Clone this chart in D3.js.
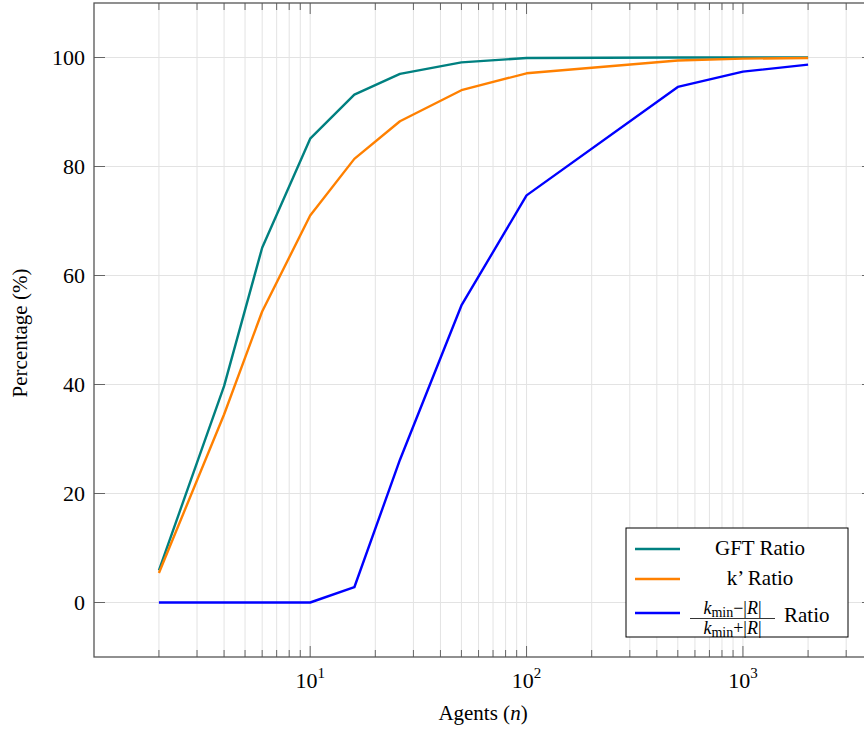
<!DOCTYPE html>
<html>
<head>
<meta charset="utf-8">
<script src="https://cdn.jsdelivr.net/npm/d3@7"></script>
<style>
  body { margin: 0; background: #fff; }
  svg { display: block; font-family: "Liberation Serif", "DejaVu Serif", serif; }
</style>
</head>
<body>
<svg id="chart" width="864" height="731"></svg>
<script>
// data
var agents = [2, 4, 6, 10, 16, 26, 50, 100, 500, 1000, 2000];
var gftRatio = [5.9, 39.7, 65.1, 85.1, 93.2, 97.0, 99.1, 99.9, 100, 100, 100];
var kPrimeRatio = [5.4, 34.5, 53.4, 71.0, 81.4, 88.3, 94.0, 97.1, 99.45, 99.8, 99.9];
var kminRatio = [0, 0, 0, 0, 2.8, 26.2, 54.5, 74.7, 94.6, 97.4, 98.7];
var yTicks = [0, 20, 40, 60, 80, 100];
var xMajor = [10, 100, 1000];
var seriesNames = ['GFT Ratio', 'k\u2019 Ratio', 'kmin'];
var seriesColors = ['#008080', '#ff8000', '#0000ff'];

(function() {
    var svg = d3.select('#chart'),
        pLeft = 94, pRight = 873, pTop = 3, pBottom = 657;

    var x = d3.scaleLog()
        .domain([Math.pow(10, 0.001), Math.pow(10, 3.601)])
        .range([pLeft, pRight]);

    var y = d3.scaleLinear()
        .domain([-10, 110])
        .range([pBottom, pTop]);

    // minor ticks of the log axis (2..9 per decade)
    var xMinor = [];
    [1, 10, 100, 1000].forEach(function(d) {
        for (var i = 2; i <= 9; i++) {
            var v = d * i;
            if (v <= x.domain()[1]) xMinor.push(v);
        }
    });

    var grid = svg.append('g').attr('stroke', '#e3e3e3').attr('stroke-width', 1);

    grid.selectAll('line.gx')
        .data(xMinor.concat(xMajor))
        .enter().append('line')
        .attr('x1', function(d) { return x(d); })
        .attr('x2', function(d) { return x(d); })
        .attr('y1', pTop)
        .attr('y2', pBottom);

    grid.selectAll('line.gy')
        .data(yTicks)
        .enter().append('line')
        .attr('x1', pLeft)
        .attr('x2', pRight)
        .attr('y1', function(d) { return y(d); })
        .attr('y2', function(d) { return y(d); });

    // tick marks on all four sides
    var ticks = svg.append('g').attr('stroke', '#666').attr('stroke-width', 1);

    function xTickMarks(data, len) {
        data.forEach(function(d) {
            ticks.append('line')
                .attr('x1', x(d)).attr('x2', x(d))
                .attr('y1', pBottom).attr('y2', pBottom - len);
            ticks.append('line')
                .attr('x1', x(d)).attr('x2', x(d))
                .attr('y1', pTop).attr('y2', pTop + len);
        });
    }
    xTickMarks(xMinor, 7);
    xTickMarks(xMajor, 11);

    yTicks.forEach(function(d) {
        ticks.append('line')
            .attr('x1', pLeft).attr('x2', pLeft + 11)
            .attr('y1', y(d)).attr('y2', y(d));
        ticks.append('line')
            .attr('x1', pRight).attr('x2', pRight - 11)
            .attr('y1', y(d)).attr('y2', y(d));
    });

    // lines
    var line = d3.line()
        .x(function(d) { return x(d[0]); })
        .y(function(d) { return y(d[1]); });

    [gftRatio, kPrimeRatio, kminRatio].forEach(function(vals, i) {
        svg.append('path')
            .datum(agents.map(function(a, j) { return [a, vals[j]]; }))
            .attr('d', line)
            .attr('fill', 'none')
            .attr('stroke', seriesColors[i])
            .attr('stroke-width', 2.4)
            .attr('stroke-linejoin', 'round');
    });

    // axis box
    svg.append('rect')
        .attr('x', pLeft).attr('y', pTop)
        .attr('width', pRight - pLeft).attr('height', pBottom - pTop)
        .attr('fill', 'none')
        .attr('stroke', '#555')
        .attr('stroke-width', 1.3);

    // y tick labels
    svg.selectAll('text.ytick')
        .data(yTicks)
        .enter().append('text')
        .attr('x', 85)
        .attr('y', function(d) { return y(d); })
        .attr('dy', '0.35em')
        .attr('text-anchor', 'end')
        .style('font-size', '22px')
        .text(function(d) { return d; });

    // x tick labels 10^k
    xMajor.forEach(function(d) {
        var t = svg.append('text')
            .attr('x', x(d))
            .attr('y', 688)
            .attr('text-anchor', 'middle')
            .style('font-size', '22px');
        t.append('tspan').text('10');
        t.append('tspan')
            .attr('dy', -10)
            .style('font-size', '15px')
            .text(Math.round(Math.log10(d)));
    });

    // axis labels
    var xl = svg.append('text')
        .attr('x', 483)
        .attr('y', 720)
        .attr('text-anchor', 'middle')
        .style('font-size', '21px');
    xl.append('tspan').text('Agents (');
    xl.append('tspan').style('font-style', 'italic').text('n');
    xl.append('tspan').text(')');

    svg.append('text')
        .attr('transform', 'translate(27,333) rotate(-90)')
        .attr('text-anchor', 'middle')
        .style('font-size', '21px')
        .text('Percentage (%)');

    // legend
    var legend = svg.append('g');
    legend.append('rect')
        .attr('x', 626).attr('y', 528)
        .attr('width', 222).attr('height', 109)
        .attr('fill', '#fff')
        .attr('stroke', '#000')
        .attr('stroke-width', 1);

    var legendY = [549, 579, 613];
    seriesNames.forEach(function(name, i) {
        legend.append('line')
            .attr('x1', 635).attr('x2', 680)
            .attr('y1', legendY[i]).attr('y2', legendY[i])
            .attr('stroke', seriesColors[i])
            .attr('stroke-width', 2.4);
        if (i < 2) {
            legend.append('text')
                .attr('x', 760)
                .attr('y', legendY[i] + 6)
                .attr('text-anchor', 'middle')
                .style('font-size', '21px')
                .text(name);
        }
    });

    // fraction (k_min - |R|) / (k_min + |R|)
    function fracPart(yPos, op) {
        var t = legend.append('text')
            .attr('x', 732.5)
            .attr('y', yPos)
            .attr('text-anchor', 'middle')
            .style('font-size', '18px');
        t.append('tspan').style('font-style', 'italic').text('k');
        t.append('tspan').attr('dy', 3).style('font-size', '14px').text('min');
        t.append('tspan').attr('dy', -3).text(op + '|');
        t.append('tspan').style('font-style', 'italic').text('R');
        t.append('tspan').text('|');
    }
    fracPart(614, '\u2212');
    fracPart(634, '+');
    legend.append('line')
        .attr('x1', 690).attr('x2', 775)
        .attr('y1', 618.5).attr('y2', 618.5)
        .attr('stroke', '#000')
        .attr('stroke-width', 0.8);
    legend.append('text')
        .attr('x', 784)
        .attr('y', 622)
        .style('font-size', '21px')
        .text('Ratio');
})();
</script>
</body>
</html>
